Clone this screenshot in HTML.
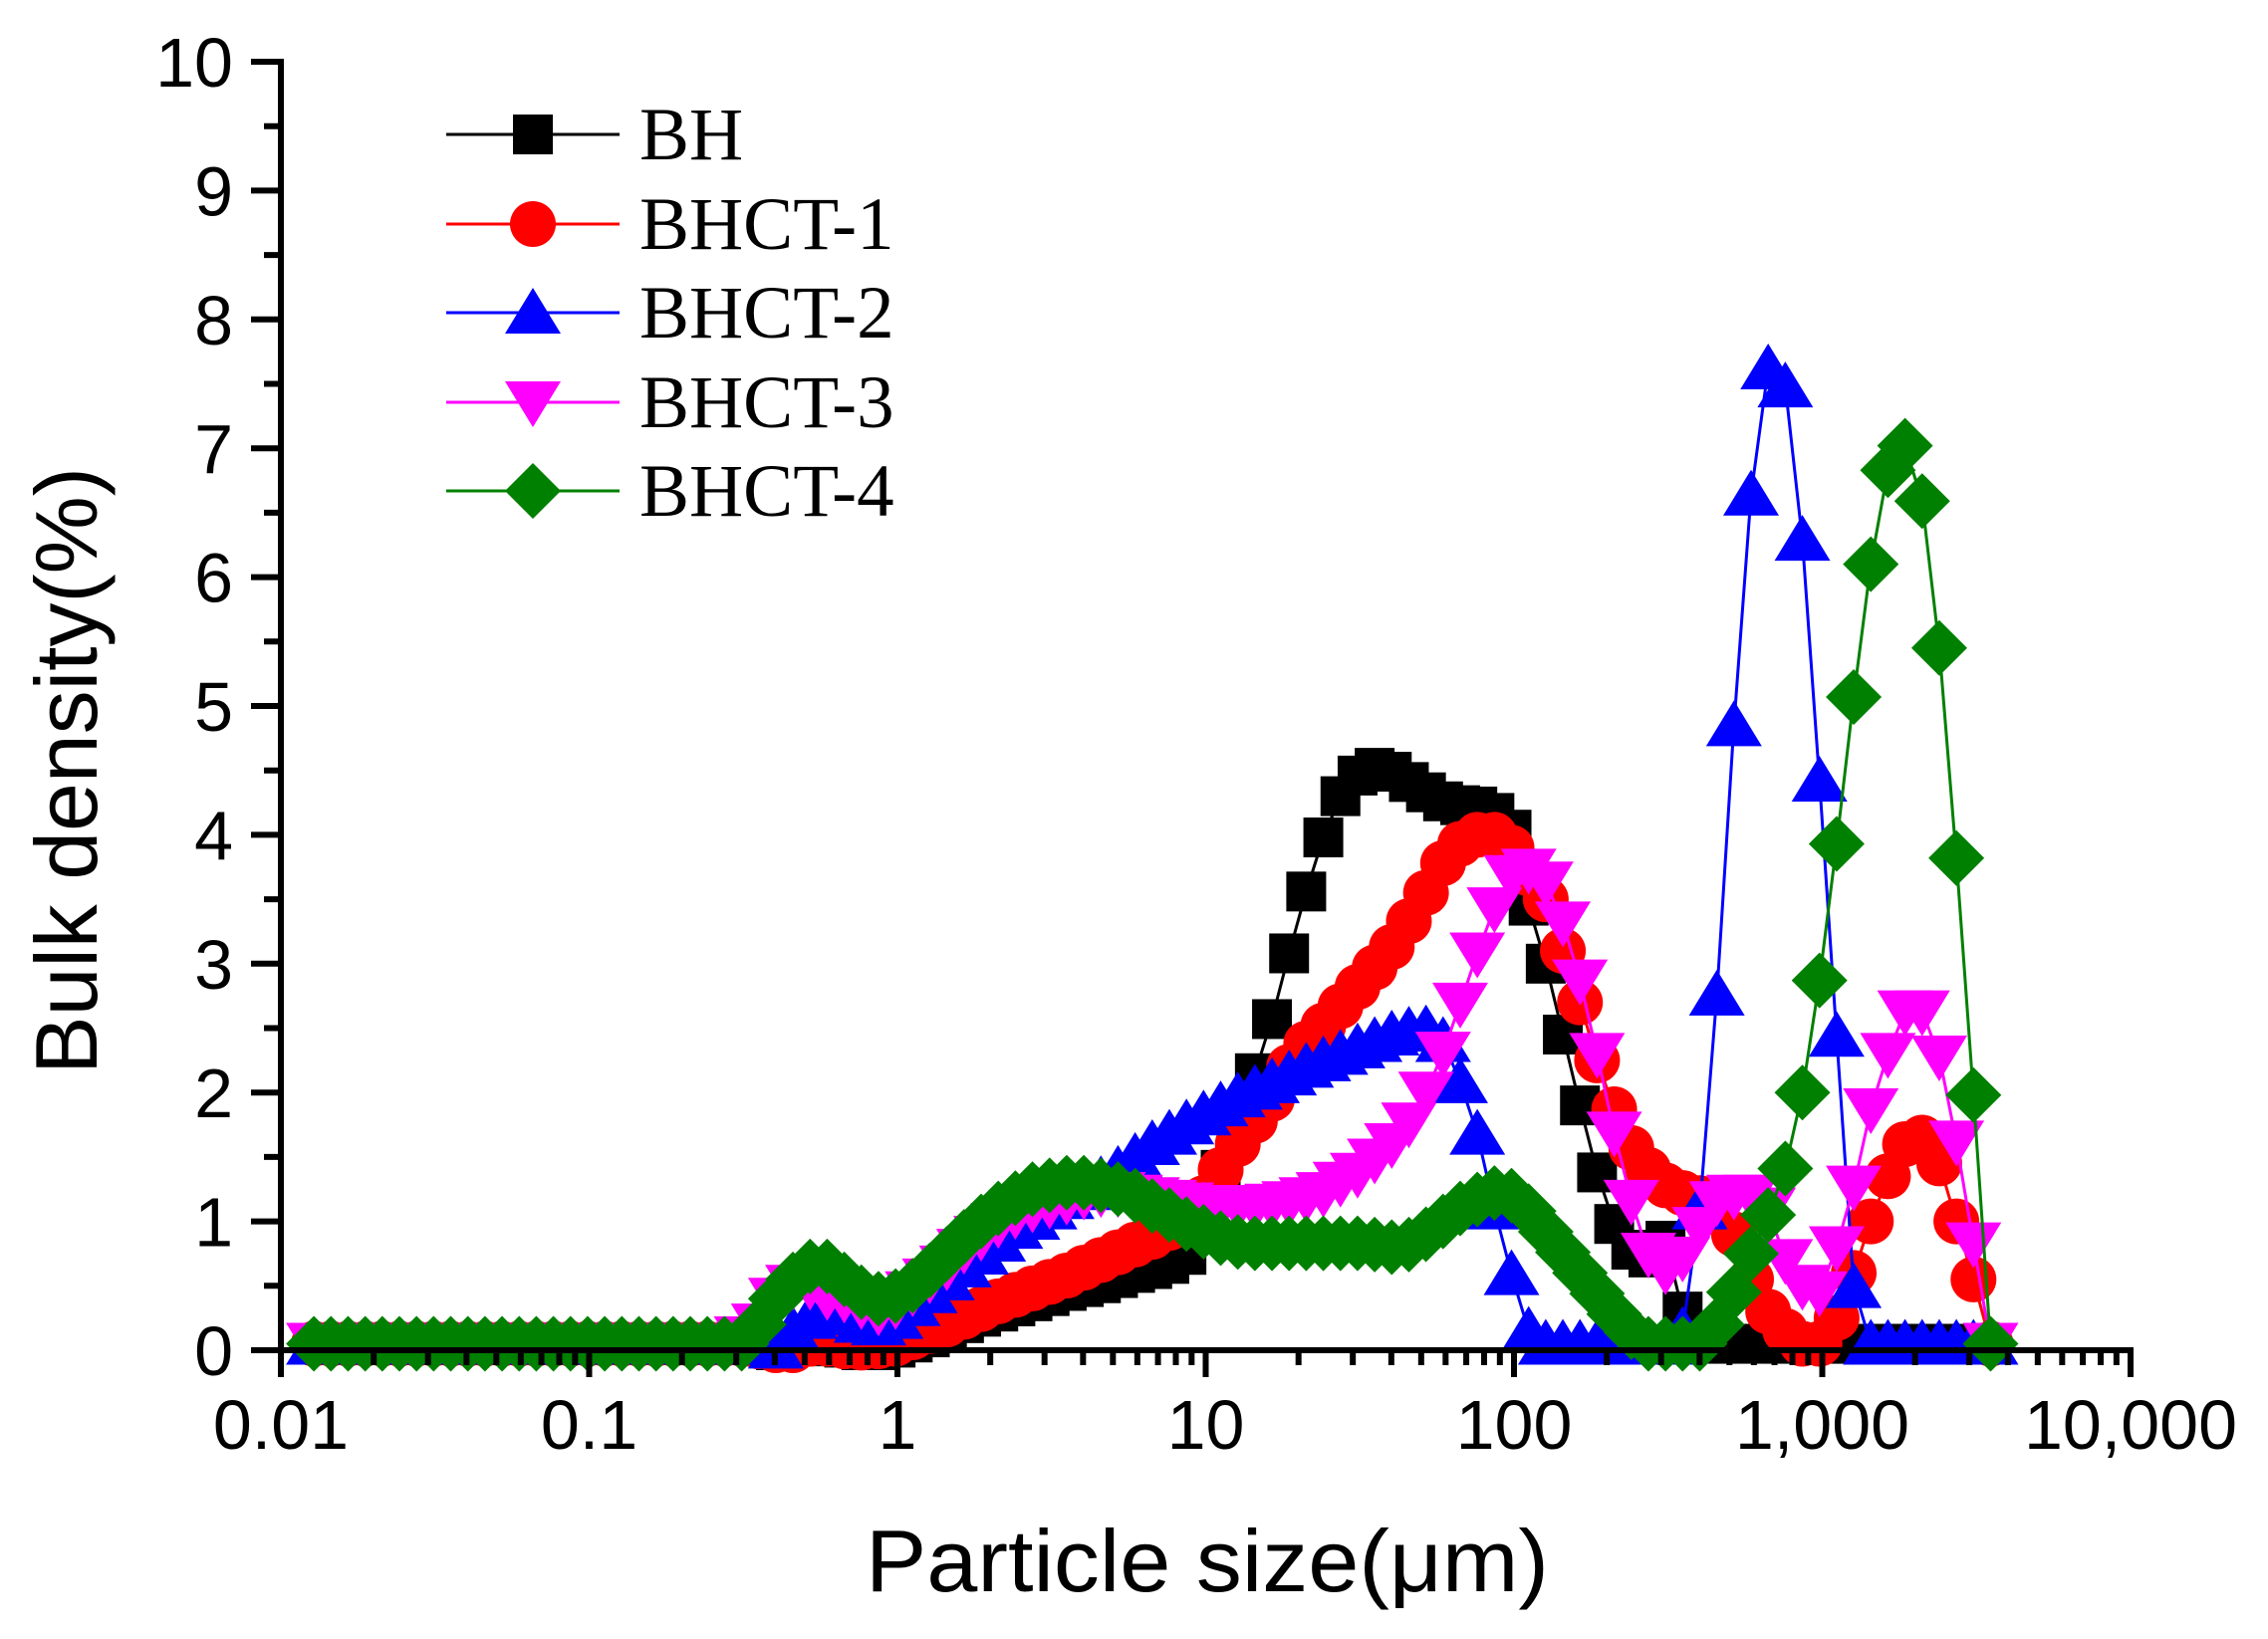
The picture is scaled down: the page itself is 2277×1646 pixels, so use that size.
<!DOCTYPE html>
<html>
<head>
<meta charset="utf-8">
<style>
  html, body { margin: 0; padding: 0; background: #fff; }
  svg { display: block; }
  text { font-family: "Liberation Sans", Arial, sans-serif; fill: #000; }
  .leg { font-family: "Liberation Serif", "Times New Roman", serif; font-size: 75px; }
</style>
</head>
<body>
<svg id="chart" width="2277" height="1646" viewBox="0 0 2277 1646" xmlns="http://www.w3.org/2000/svg">
  <rect x="0" y="0" width="2277" height="1646" fill="#fff"/>
  <g id="series"></g>
  <g id="axes"></g>
  <g id="legend"></g>
  <text x="1212" y="1598" font-size="88" text-anchor="middle" textLength="686" lengthAdjust="spacingAndGlyphs">Particle size(μm)</text>
  <text transform="translate(97,774) rotate(-90)" x="0" y="0" font-size="88" text-anchor="middle" textLength="610" lengthAdjust="spacingAndGlyphs">Bulk density(%)</text>
</svg>
<script>
// ---- data ----
const startLog = -1.893;
const stepLog = 0.0555;
const seriesNames = ["BH", "BHCT-1", "BHCT-2", "BHCT-3", "BHCT-4"];
const bhValues = [0.05,0.05,0.05,0.05,0.05,0.05,0.05,0.05,0.05,0.05,0.05,0.05,0.05,0.05,0.05,0.05,0.05,0.05,0.05,0.05,0.05,0.05,0.05,0.05,0.05,0.05,0.03,0,0.03,0.05,0.03,0.02,0,0,0.02,0.06,0.1,0.16,0.21,0.26,0.3,0.34,0.38,0.42,0.46,0.49,0.52,0.56,0.6,0.63,0.67,0.74,1.0,1.4,1.75,2.15,2.57,3.08,3.56,3.98,4.3,4.46,4.52,4.49,4.41,4.33,4.26,4.23,4.22,4.17,4.04,3.45,3.0,2.45,1.9,1.38,0.98,0.78,0.72,0.85,0.3,0.05,0.05,0.05,0.05,0.05,0.05,0.05,0.05,0.05,0.05,0.05,0.05,0.05,0.05,0.05,0.05,0.05,0.05];
const bhct1Values = [0.05,0.05,0.05,0.05,0.05,0.05,0.05,0.05,0.05,0.05,0.05,0.05,0.05,0.05,0.05,0.05,0.05,0.05,0.05,0.05,0.05,0.05,0.05,0.05,0.05,0.05,0.03,0,0,0.05,0.05,0.03,0.02,0.03,0.05,0.1,0.15,0.2,0.26,0.32,0.38,0.43,0.48,0.53,0.58,0.64,0.7,0.76,0.82,0.88,0.95,1.05,1.18,1.4,1.6,1.78,1.95,2.2,2.38,2.52,2.67,2.82,2.97,3.13,3.33,3.55,3.78,3.93,4.0,4.0,3.9,3.7,3.5,3.1,2.7,2.25,1.87,1.57,1.4,1.28,1.22,1.18,1.15,0.9,0.55,0.3,0.15,0.05,0.05,0.25,0.6,1.0,1.35,1.6,1.65,1.45,1.0,0.55,0.05];
const bhct2Values = [0.05,0.05,0.05,0.05,0.05,0.05,0.05,0.05,0.05,0.05,0.05,0.05,0.05,0.05,0.05,0.05,0.05,0.05,0.05,0.05,0.05,0.05,0.05,0.05,0.05,0.05,0.05,0.02,0.15,0.25,0.3,0.28,0.22,0.2,0.25,0.35,0.45,0.55,0.65,0.75,0.85,0.95,1.02,1.1,1.18,1.25,1.32,1.4,1.5,1.6,1.68,1.76,1.83,1.9,1.97,2.03,2.08,2.14,2.2,2.25,2.3,2.35,2.4,2.45,2.48,2.49,2.4,2.08,1.68,1.1,0.59,0.15,0.05,0.05,0.05,0.05,0.05,0.05,0.05,0.05,0.15,1.1,2.76,4.85,6.64,7.62,7.48,6.29,4.42,2.44,0.49,0.05,0.05,0.05,0.05,0.05,0.05,0.05,0.05];
const bhct3Values = [0.05,0.05,0.05,0.05,0.05,0.05,0.05,0.05,0.05,0.05,0.05,0.05,0.05,0.05,0.05,0.05,0.05,0.05,0.05,0.05,0.05,0.05,0.05,0.05,0.05,0.1,0.2,0.4,0.5,0.5,0.42,0.4,0.35,0.3,0.35,0.45,0.55,0.65,0.78,0.88,0.98,1.05,1.1,1.13,1.16,1.2,1.22,1.22,1.2,1.18,1.16,1.14,1.12,1.12,1.12,1.12,1.13,1.15,1.18,1.22,1.3,1.37,1.48,1.6,1.76,2.0,2.31,2.69,3.08,3.43,3.68,3.73,3.63,3.32,2.87,2.3,1.69,1.16,0.75,0.62,0.72,0.95,1.15,1.2,1.2,1.1,0.7,0.5,0.45,0.8,1.27,1.87,2.3,2.63,2.63,2.28,1.62,0.83,0.05];
const bhct4Values = [0.05,0.05,0.05,0.05,0.05,0.05,0.05,0.05,0.05,0.05,0.05,0.05,0.05,0.05,0.05,0.05,0.05,0.05,0.05,0.05,0.05,0.05,0.05,0.05,0.05,0.05,0.2,0.4,0.55,0.65,0.65,0.55,0.45,0.4,0.42,0.5,0.62,0.75,0.88,1.0,1.1,1.18,1.25,1.28,1.3,1.3,1.28,1.25,1.2,1.12,1.05,0.98,0.92,0.87,0.84,0.83,0.83,0.83,0.83,0.83,0.83,0.83,0.82,0.8,0.82,0.9,1.0,1.1,1.17,1.22,1.2,1.08,0.92,0.76,0.6,0.44,0.28,0.14,0.05,0.05,0.05,0.05,0.2,0.45,0.75,1.05,1.41,2.0,2.87,3.93,5.07,6.1,6.83,7.02,6.59,5.45,3.82,1.98,0.05];
const yTickLabels = ["0","1","2","3","4","5","6","7","8","9","10"];
const xTickLabels = ["0.01","0.1","1","10","100","1,000","10,000"];

// ---- axis functions ----
const X0 = 282, DEC = 309.5, Y0 = 1356, YU = 129.4;
function xLog(L) { return X0 + (L + 2) * DEC; }
function xOf(i) { return xLog(startLog + stepLog * i); }
function yOf(v) { return Y0 - v * YU; }

const NS = "http://www.w3.org/2000/svg";
function mk(tag, attrs, parent) {
  const e = document.createElementNS(NS, tag);
  for (const k in attrs) e.setAttribute(k, attrs[k]);
  parent.appendChild(e);
  return e;
}

const colors = ["#000000", "#ff0000", "#0000ff", "#ff00ff", "#008000"];
const shapes = ["square", "circle", "up", "down", "diamond"];
const allValues = [bhValues, bhct1Values, bhct2Values, bhct3Values, bhct4Values];

function marker(shape, cx, cy, color, parent) {
  let e;
  if (shape === "square") {
    e = mk("rect", {x: cx - 20, y: cy - 20, width: 40, height: 40, fill: color}, parent);
  } else if (shape === "circle") {
    e = mk("circle", {cx: cx, cy: cy, r: 23, fill: color}, parent);
  } else if (shape === "up") {
    e = mk("polygon", {points: `${cx},${cy-25} ${cx+28},${cy+21} ${cx-28},${cy+21}`, fill: color}, parent);
  } else if (shape === "down") {
    e = mk("polygon", {points: `${cx},${cy+25} ${cx+28},${cy-21} ${cx-28},${cy-21}`, fill: color}, parent);
  } else {
    e = mk("polygon", {points: `${cx},${cy-28} ${cx+28},${cy} ${cx},${cy+28} ${cx-28},${cy}`, fill: color}, parent);
  }
  return e;
}

const gSeries = document.getElementById("series");
allValues.forEach((vals, s) => {
  const g = mk("g", {}, gSeries);
  
  
  const pts = vals.map((v, i) => xOf(i).toFixed(1) + "," + yOf(v).toFixed(1)).join(" ");
  const line = mk("polyline", {points: pts, fill: "none", stroke: colors[s], "stroke-width": 3, "stroke-linejoin": "round"}, g);
  
  
  vals.forEach((v, i) => {
    const m = marker(shapes[s], xOf(i), yOf(v), colors[s], g);
    
    
  });
});

// ---- axes ----
const gAxes = document.getElementById("axes");
const yAxis = mk("line", {x1: X0, y1: yOf(10) - 3, x2: X0, y2: Y0 + 27, stroke: "#000", "stroke-width": 6}, gAxes);


const xAxis = mk("line", {x1: X0 - 30, y1: Y0, x2: xLog(4) + 3, y2: Y0, stroke: "#000", "stroke-width": 6}, gAxes);



yTickLabels.forEach((lab, k) => {
  const y = yOf(k);
  const t = mk("line", {x1: X0 - 30, y1: y, x2: X0, y2: y, stroke: "#000", "stroke-width": 6}, gAxes);
  
  
  if (k < 10) {
    const mt = mk("line", {x1: X0 - 17, y1: yOf(k + 0.5), x2: X0, y2: yOf(k + 0.5), stroke: "#000", "stroke-width": 6}, gAxes);
    
    
  }
  const tx = mk("text", {x: 234, y: y + 25, "font-size": 70, "text-anchor": "end"}, gAxes);
  tx.textContent = lab;
  
  
});

xTickLabels.forEach((lab, d) => {
  const x = xLog(d - 2);
  const t = mk("line", {x1: x, y1: Y0, x2: x, y2: Y0 + 27, stroke: "#000", "stroke-width": 6}, gAxes);
  
  
  if (d < 6) {
    for (let m = 2; m <= 9; m++) {
      const xm = xLog(d - 2 + Math.log10(m));
      const mt = mk("line", {x1: xm, y1: Y0, x2: xm, y2: Y0 + 15, stroke: "#000", "stroke-width": 6}, gAxes);
      
      
    }
  }
  const tx = mk("text", {x: x, y: 1455, "font-size": 70, "text-anchor": "middle"}, gAxes);
  tx.textContent = lab;
  
  
});

// ---- legend ----
const gLeg = document.getElementById("legend");
const legRows = [135, 225, 314, 404, 493];
seriesNames.forEach((name, s) => {
  const g = mk("g", {}, gLeg);
  
  
  const y = legRows[s];
  mk("line", {x1: 448, y1: y, x2: 622, y2: y, stroke: colors[s], "stroke-width": 3}, g);
  marker(shapes[s], 535, y, colors[s], g);
  const t = mk("text", {x: 642, y: y + 25, class: "leg"}, g);
  t.textContent = name;
});
</script>
</body>
</html>
